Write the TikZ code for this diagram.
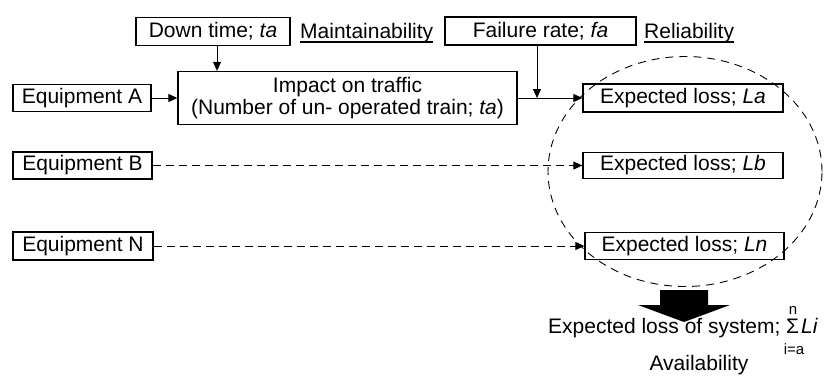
\documentclass[tikz,border=0pt]{standalone}
\usepackage{fontspec}
\setmainfont{Liberation Sans}
\usetikzlibrary{arrows.meta,shapes.geometric}
\begin{document}
\begin{tikzpicture}[x=1pt,y=-1pt,
  box/.style={draw, line width=1.3pt, inner sep=0pt, minimum height=28pt, font=\fontsize{21}{22}\selectfont},
  conn/.style={line width=0.9pt, -{Triangle[length=9pt,width=8pt]}},
  dconn/.style={conn, dash pattern=on 8pt off 5pt},
  lab/.style={inner sep=0pt, font=\fontsize{21}{22}\selectfont},
  smalllab/.style={inner sep=0pt, font=\fontsize{15}{15}\selectfont},
  grpstyle/.style={draw, ellipse, line width=0.9pt, dash pattern=on 8pt off 6pt, inner sep=0pt}]
\useasboundingbox (0,0) rectangle (824,376);

% boxes
\node[box, minimum width=154pt] (dt) at (213,31.5) {Down time; \textit{ta}};
\node[box, minimum width=191pt] (fr) at (540.5,31) {Failure rate; \textit{fa}};
\node[box, minimum width=339pt, minimum height=53pt, align=center] (imp) at (347.5,98) {Impact on traffic\\(Number of un- operated train; \textit{ta})};
\node[box, minimum width=138pt, minimum height=27pt] (ea) at (82,98) {Equipment A};
\node[box, minimum width=139pt, minimum height=27pt] (eb) at (82.5,165.5) {Equipment B};
\node[box, minimum width=140pt] (en) at (83,246) {Equipment N};
\node[box, minimum width=200pt] (la) at (683,98) {Expected loss; \textit{La}};
\node[box, minimum width=200pt, minimum height=26pt] (lb) at (683,165.5) {Expected loss; \textit{Lb}};
\node[box, minimum width=199pt, minimum height=27pt] (ln) at (684.5,246) {Expected loss; \textit{Ln}};

% group ellipse
\node[grpstyle, minimum width=274pt, minimum height=230pt] (grp) at (685,171.5) {};

% labels
\node[lab, anchor=base west] (mt) at (300,38) {Maintainability};
\node[lab, anchor=base west] (rl) at (644,38) {Reliability};
\draw[line width=1.1pt] ([yshift=-4pt]mt.base west) -- ([yshift=-4pt]mt.base east);
\draw[line width=1.1pt] ([yshift=-4pt]rl.base west) -- ([yshift=-4pt]rl.base east);

% connectors
\coordinate (dx) at (217,0);
\coordinate (jn) at (537,98);
\draw[conn] (ea) -- (imp);
\draw[conn] (dt.south -| dx) -- (imp.north -| dx);
\draw[conn] (imp) -- (la);
\draw[conn] (fr.south -| jn) -- (jn);
\draw[dconn] (eb) -- (lb);
\draw[dconn] (en) -- (ln);

% big black arrow
\fill (660,290) -- (708,290) -- (708,305) -- (730,305) -- (684,322) -- (638,305) -- (660,305) -- cycle;

% system expected loss
\node[lab, anchor=base west] (els) at (548,333) {Expected loss of system;};
\node[lab, anchor=base west] (sig) at (786,333) {Σ};
\node[lab, anchor=base west] (li) at (801,333) {\textit{Li}};
\node[smalllab, anchor=base] (sn) at (793,314) {n};
\node[smalllab, anchor=base] (si) at (794,354) {i=a};
\node[lab, anchor=base] (av) at (699,370) {Availability};
\end{tikzpicture}
\end{document}
